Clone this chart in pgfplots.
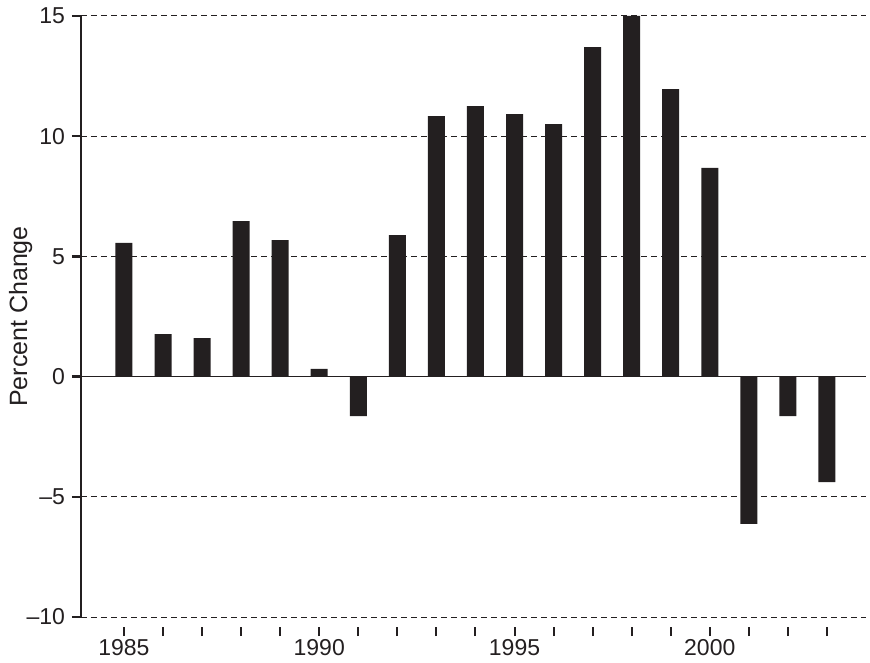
\documentclass[border=0pt]{standalone}
\usepackage{pgfplots}
\pgfplotsset{compat=1.18}
\usepackage{fontspec}
\setmainfont{Liberation Sans}
\definecolor{barc}{HTML}{231F20}
\begin{document}
\begin{tikzpicture}
\begin{axis}[
  scale only axis,
  width=392.5pt, height=300.5pt,
  xmin=1983.9, xmax=2004.0,
  ymin=-10, ymax=15,
  axis lines=left,
  axis line style={draw=none},
  ytick={-10,-5,5,10,15},
  yticklabels={\textendash10,\textendash5,5,10,15},
  extra y ticks={0},
  extra y tick labels={0},
  extra y tick style={grid=major, major grid style={solid, line width=0.7pt, color=barc}},
  ymajorgrids,
  major grid style={dash pattern=on 3pt off 2pt, line width=0.5pt, color=barc},
  xtick={1985,1986,...,2003},
  xticklabels={1985,,,,,1990,,,,,1995,,,,,2000,,,},
  tick align=outside,
  major tick length=4.5pt,
  ytick style={line width=1.25pt, color=barc},
  xtick style={line width=1pt, color=barc, yshift=-5pt},
  xticklabel style={yshift=-3pt},
  ticklabel style={font=\fontsize{11.5}{13}\selectfont, color=barc},
  ylabel={Percent Change},
  ylabel style={font=\fontsize{12.5}{14}\selectfont, color=barc, at={(axis description cs:-0.053,0.5)}, anchor=south},
  clip=false,
]
\addplot[ybar, bar width=8.5pt, bar shift=0pt, fill=barc, draw=none] coordinates {
(1985,5.56) (1986,1.77) (1987,1.6) (1988,6.47) (1989,5.68) (1990,0.32)
(1991,-1.64) (1992,5.89) (1993,10.84) (1994,11.25) (1995,10.92) (1996,10.5)
(1997,13.7) (1998,15.0) (1999,11.96) (2000,8.68) (2001,-6.13) (2002,-1.64)
(2003,-4.39)
};
\draw[line width=1.25pt, color=barc] (rel axis cs:0,0) -- (rel axis cs:0,1);
\path (rel axis cs:0,0) ++(-40.5pt,-22pt) coordinate (bl);
\path (rel axis cs:1,1) ++(2pt,8pt) coordinate (tr);
\path (bl) rectangle (tr);
\end{axis}
\end{tikzpicture}
\end{document}
